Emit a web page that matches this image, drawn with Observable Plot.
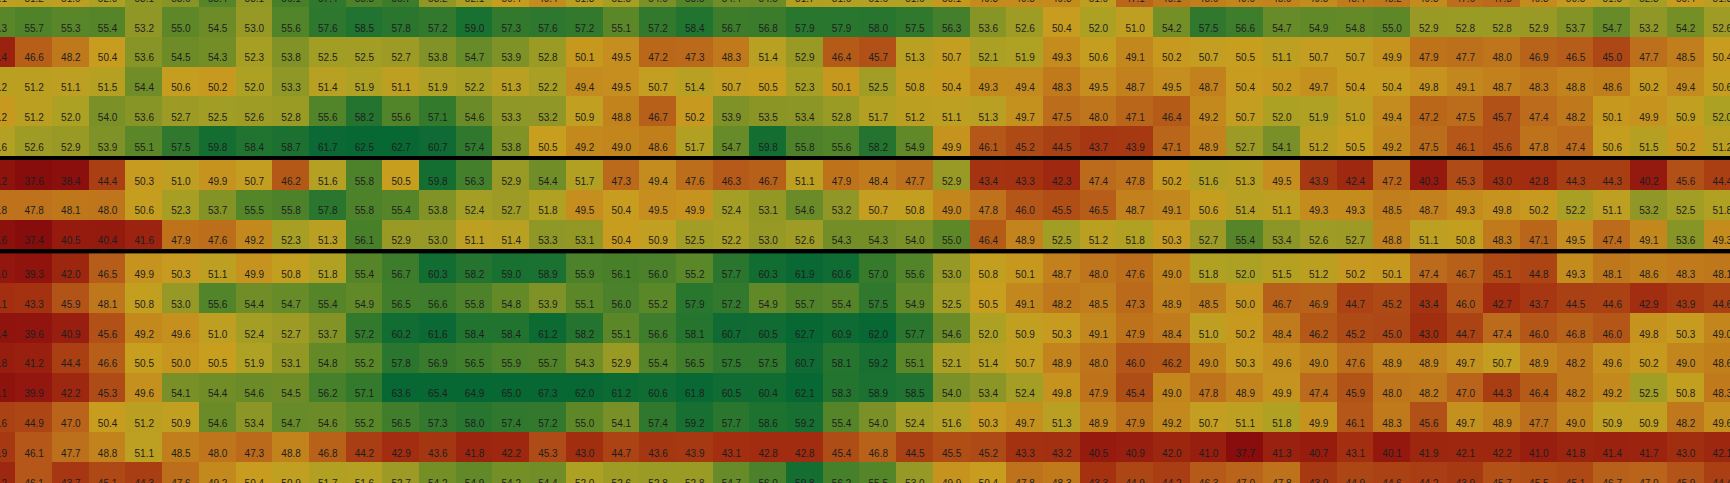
<!DOCTYPE html>
<html>
<head>
<meta charset="utf-8">
<script src="https://cdn.jsdelivr.net/npm/d3@7"></script>
<script src="https://cdn.jsdelivr.net/npm/@observablehq/plot@0.6"></script>
<style>
  html, body { margin: 0; padding: 0; background: #000; overflow: hidden; }
  #chart svg { display: block; overflow: hidden; }
</style>
</head>
<body>
<div id="chart"></div>
<script>
// Column indices (first and last are cropped at the edges)
const columns = d3.range(-1, 47);

// Row values, each listing columns -1 .. 46
const rowP0 = [51.1, 51.2,51.0,52.0,53.1,53.6,55.4,53.1,56.1,57.4,55.8,56.7,53.2, 52.1,50.4,49.4,51.3,52.3,54.0,55.5,54.4,54.5,51.7,51.6, 51.6,51.6,50.1,49.3,49.3,49.3,51.0,47.1,48.1,48.6,49.0,48.9, 49.3,48.4,48.2,49.3,47.6,47.3,49.3,50.3,51.3,52.3,50.4,51.3];
const rowA1 = [55.3, 55.7,55.3,55.4,53.2,55.0,54.5,53.0,55.6,57.6,58.5,57.8,57.2, 59.0,57.3,57.6,57.2,55.1,57.2,58.4,56.7,56.8,57.9,57.9, 58.0,57.5,56.3,53.6,52.6,50.4,52.0,51.0,54.2,57.5,56.6,54.7, 54.9,54.8,55.0,52.9,52.8,52.8,52.9,53.7,54.7,53.2,54.2,52.6];
const rowA2 = [41.4, 46.6,48.2,50.4,53.6,54.5,54.3,52.3,53.8,52.5,52.5,52.7,53.8, 54.7,53.9,52.8,50.1,49.5,47.2,47.3,48.3,51.4,52.9,46.4, 45.7,51.3,50.7,52.1,51.9,49.3,50.6,49.1,50.2,50.7,50.5,51.1, 50.7,50.7,49.9,47.9,47.7,48.0,46.9,46.5,45.0,47.7,48.5,50.4];
const rowA3 = [51.2, 51.2,51.1,51.5,54.4,50.6,50.2,52.0,53.3,51.4,51.9,51.1,51.9, 52.2,51.3,52.2,49.4,49.5,50.7,51.4,50.7,50.5,52.3,50.1, 52.5,50.8,50.4,49.3,49.4,48.3,49.5,48.7,49.5,48.7,50.4,50.2, 49.7,50.4,50.4,49.8,49.1,48.7,48.3,48.8,48.6,50.2,49.4,50.6];
const rowA4 = [50.2, 51.2,52.0,54.0,53.6,52.7,52.5,52.6,52.8,55.6,58.2,55.6,57.1, 54.6,53.3,53.2,50.9,48.8,46.7,50.2,53.9,53.5,53.4,52.8, 51.7,51.2,51.1,51.3,49.7,47.5,48.0,47.1,46.4,49.2,50.7,52.0, 51.9,51.0,49.4,47.2,47.5,45.7,47.4,48.2,50.1,49.9,50.9,52.0];
const rowA5 = [51.6, 52.6,52.9,53.9,55.1,57.5,59.8,58.4,58.7,61.7,62.5,62.7,60.7, 57.4,53.8,50.5,49.2,49.0,48.6,51.7,54.7,59.8,55.8,55.6, 58.2,54.9,49.9,46.1,45.2,44.5,43.7,43.9,47.1,48.9,52.7,54.1, 51.2,50.5,49.2,47.5,46.1,45.6,47.8,47.4,50.6,51.5,50.2,51.2];
const rowB1 = [39.2, 37.6,38.4,44.4,50.3,51.0,49.9,50.7,46.2,51.6,55.8,50.5,59.8, 56.3,52.9,54.4,51.7,47.3,49.4,47.6,46.3,46.7,51.1,47.9, 48.4,47.7,52.9,43.4,43.3,42.3,47.4,47.8,50.2,51.6,51.3,49.5, 43.9,42.4,47.2,40.3,45.3,43.0,42.8,44.3,44.3,40.2,45.6,44.4];
const rowB2 = [47.8, 47.8,48.1,48.0,50.6,52.3,53.7,55.5,55.8,57.8,55.8,55.4,53.8, 52.4,52.7,51.8,49.5,50.4,49.5,49.9,52.4,53.1,54.6,53.2, 50.7,50.8,49.0,47.8,46.0,45.5,46.5,48.7,49.1,50.6,51.4,51.1, 49.3,49.3,48.5,48.7,49.3,49.8,50.2,52.2,51.1,53.2,52.5,51.8];
const rowB3 = [38.6, 37.4,40.5,40.4,41.6,47.9,47.6,49.2,52.3,51.3,56.1,52.9,53.0, 51.1,51.4,53.3,53.1,50.4,50.9,52.5,52.2,53.0,52.6,54.3, 54.3,54.0,55.0,46.4,48.9,52.5,51.2,51.8,50.3,52.7,55.4,53.4, 52.6,52.7,48.8,51.1,50.8,48.3,47.1,49.5,47.4,49.1,53.6,49.3];
const rowC1 = [40.0, 39.3,42.0,46.5,49.9,50.3,51.1,49.9,50.8,51.8,55.4,56.7,60.3, 58.2,59.0,58.9,55.9,56.1,56.0,55.2,57.7,60.3,61.9,60.6, 57.0,55.6,53.0,50.8,50.1,48.7,48.0,47.6,49.0,51.8,52.0,51.5, 51.2,50.2,50.1,47.4,46.7,45.1,44.8,49.3,48.1,48.6,48.3,48.1];
const rowC2 = [43.1, 43.3,45.9,48.1,50.8,53.0,55.6,54.4,54.7,55.4,54.9,56.5,56.6, 55.8,54.8,53.9,55.1,56.0,55.2,57.9,57.2,54.9,55.7,55.4, 57.5,54.9,52.5,50.5,49.1,48.2,48.5,47.3,48.9,48.5,50.0,46.7, 46.9,44.7,45.2,43.4,46.0,42.7,43.7,44.5,44.6,42.9,43.9,44.6];
const rowC3 = [39.4, 39.6,40.9,45.6,49.2,49.6,51.0,52.4,52.7,53.7,57.2,60.2,61.6, 58.4,58.4,61.2,58.2,55.1,56.6,58.1,60.7,60.5,62.7,60.9, 62.0,57.7,54.6,52.0,50.9,50.3,49.1,47.9,48.4,51.0,50.2,48.4, 46.2,45.2,45.0,43.0,44.7,47.4,46.0,46.8,46.0,49.8,50.3,49.0];
const rowC4 = [40.8, 41.2,44.4,46.6,50.5,50.0,50.5,51.9,53.1,54.8,55.2,57.8,56.9, 56.5,55.9,55.7,54.3,52.9,55.4,56.5,57.5,57.5,60.7,58.1, 59.2,55.1,52.1,51.4,50.7,48.9,48.0,46.0,46.2,49.0,50.3,49.6, 49.0,47.6,48.9,48.9,49.7,50.7,48.9,48.2,49.6,50.2,49.0,48.6];
const rowC5 = [39.1, 39.9,42.2,45.3,49.6,54.1,54.4,54.6,54.5,56.2,57.1,63.6,65.4, 64.9,65.0,67.3,62.0,61.2,60.6,61.8,60.5,60.4,62.1,58.3, 58.9,58.5,54.0,53.4,52.4,49.8,47.9,45.4,49.0,47.8,48.9,49.9, 47.4,45.9,48.0,48.2,47.0,44.3,46.4,48.2,49.2,52.5,50.8,48.3];
const rowC6 = [44.6, 44.9,47.0,50.4,51.2,50.9,54.6,53.4,54.7,54.6,55.2,56.5,57.3, 58.0,57.4,57.2,55.0,54.1,57.4,59.2,57.7,58.6,59.2,55.4, 54.0,52.4,51.6,50.3,49.7,51.3,48.9,47.9,49.2,50.7,51.1,51.8, 49.9,46.1,48.3,45.6,49.7,48.9,47.7,49.0,50.9,50.9,48.2,49.6];
const rowC7 = [43.9, 46.1,47.7,48.8,51.1,48.5,48.0,47.3,48.8,46.8,44.2,42.9,43.6, 41.8,42.2,45.3,43.0,44.7,43.6,43.9,43.1,42.8,42.8,45.4, 46.8,44.5,45.5,45.2,43.3,43.2,40.5,40.9,42.0,41.0,37.7,41.3, 40.7,43.1,40.1,41.9,42.1,42.2,41.0,41.8,41.4,41.7,43.0,42.1];
const rowP1 = [42.2, 46.1,43.7,45.1,44.3,47.6,49.2,50.4,50.9,51.7,51.6,52.7,54.2, 54.9,54.2,54.4,52.0,52.6,52.8,52.8,54.7,56.0,59.8,56.2, 55.5,53.0,49.9,50.4,47.8,48.3,43.3,44.9,44.2,46.3,47.0,47.8, 43.9,44.9,44.6,44.2,43.9,45.7,45.5,45.1,46.7,47.0,45.9,44.4];

// Groups of rows separated by black rules
const groups = [
  [rowP0, rowA1, rowA2, rowA3, rowA4, rowA5],
  [rowB1, rowB2, rowB3],
  [rowC1, rowC2, rowC3, rowC4, rowC5, rowC6, rowC7, rowP1]
];

// Colour stops (value -> colour)
const colorStops = [37.5, 40, 43, 45, 47, 49, 50.5, 52, 53.5, 55, 57, 59, 62];
const colorRange = ["#870c0c", "#93170e", "#a22e10", "#ad4715", "#b9641a", "#c3861d", "#c89e1f", "#ada124", "#8a9526", "#5e8828", "#367a2c", "#187031", "#086834"];

// ---- layout (not data) ----
const GAP = 4 / 29.8;   // separator thickness in row units
const cells = [];
const separators = [];
let pos = 0;
groups.forEach((g, gi) => {
  g.forEach((vals) => {
    columns.forEach((c, ci) => cells.push({col: c, row: pos, v: vals[ci]}));
    pos += 1;
  });
  if (gi < groups.length - 1) {
    separators.push({y1: pos, y2: pos + GAP});
    pos += GAP;
  }
});
const totalRows = pos;

const chart = Plot.plot({
  width: 1730,
  height: 483,
  margin: 0,
  style: {background: "#000", overflow: "hidden"},
  x: {type: "linear", domain: [-1, 47], range: [-21.4, 1740.2], axis: null},
  y: {type: "linear", domain: [0, totalRows], range: [-22.8, -22.8 + totalRows * 29.8], axis: null},
  color: {type: "linear", domain: colorStops, range: colorRange, clamp: true, interpolate: "rgb"},
  marks: [
    Plot.rect(cells, {
      x1: "col", x2: (d) => d.col + 1,
      y1: "row", y2: (d) => d.row + 1,
      fill: "v", shapeRendering: "crispEdges"
    }),
    Plot.rect(separators, {y1: "y1", y2: "y2", fill: "#000"}),
    Plot.text(cells, {
      x: (d) => d.col + 0.5,
      y: (d) => d.row + 0.5,
      text: (d) => d.v.toFixed(1),
      dy: 6,
      fontSize: 10,
      fontFamily: "Liberation Sans, Arial, sans-serif",
      fill: "#1e1e1e"
    })
  ]
});
document.getElementById("chart").appendChild(chart);
</script>
</body>
</html>
